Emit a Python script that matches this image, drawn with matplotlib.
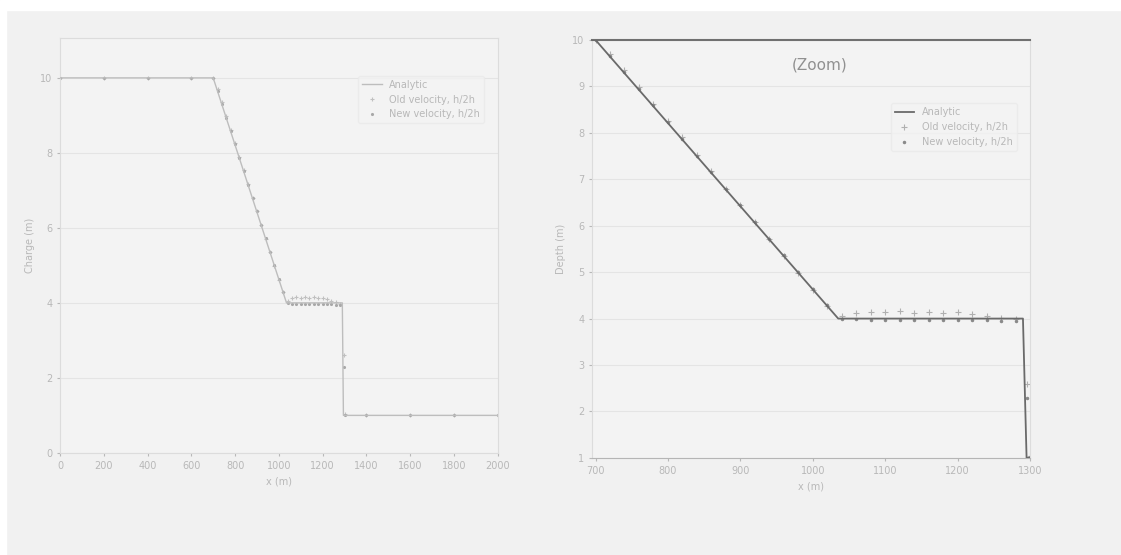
import matplotlib
matplotlib.use("Agg")
import matplotlib.pyplot as plt

# Analytic solution
ana_x = [0, 700, 1035, 1290, 1295, 2000]
ana_y = [10, 10, 4, 4, 1, 1]

# Numerical series
num_x = [0, 200, 400, 600, 700, 720, 740, 760, 780, 800, 820, 840, 860, 880, 900,
         920, 940, 960, 980, 1000, 1020, 1040, 1060, 1080, 1100, 1120, 1140, 1160,
         1180, 1200, 1220, 1240, 1260, 1280, 1296, 1300, 1400, 1600, 1800, 2000]
old_y = [10, 10, 10, 10, 10.0, 9.7, 9.35, 8.98, 8.62, 8.25, 7.9, 7.53, 7.17, 6.8, 6.44,
         6.08, 5.71, 5.35, 4.98, 4.62, 4.28, 4.05, 4.12, 4.15, 4.14, 4.16, 4.13, 4.15,
         4.12, 4.14, 4.1, 4.06, 4.02, 3.98, 2.6, 1.05, 1, 1, 1, 1]
new_y = [10, 10, 10, 10, 10.0, 9.66, 9.3, 8.94, 8.59, 8.23, 7.87, 7.51, 7.15, 6.8, 6.44,
         6.08, 5.72, 5.36, 5.0, 4.64, 4.29, 4.0, 3.98, 3.97, 3.97, 3.96, 3.97, 3.96,
         3.96, 3.97, 3.96, 3.96, 3.95, 3.94, 2.3, 1.02, 1, 1, 1, 1]

labels = ["Analytic", "Old velocity, h/2h", "New velocity, h/2h"]

left_xticks = [0, 200, 400, 600, 800, 1000, 1200, 1400, 1600, 1800, 2000]
left_yticks = [0, 2, 4, 6, 8, 10]
right_xticks = [700, 800, 900, 1000, 1100, 1200, 1300]
right_yticks = [1, 2, 3, 4, 5, 6, 7, 8, 9, 10]

bg = "#f1f1f1"
txt = "#b8b8b8"

fig = plt.figure(figsize=(11.21, 5.55), dpi=100, facecolor=bg)
fig.patches.append(plt.Rectangle((0, 0.982), 1, 0.018, transform=fig.transFigure,
                                 color="white", zorder=0))
fig.patches.append(plt.Rectangle((0, 0), 0.0055, 1, transform=fig.transFigure,
                                 color="white", zorder=0))
ax1 = fig.add_axes([0.0535, 0.184, 0.3905, 0.748])
ax2 = fig.add_axes([0.528, 0.175, 0.391, 0.753])

for ax in (ax1, ax2):
    ax.set_facecolor("#f3f3f3")
    ax.grid(axis="y", color="#e4e4e4", lw=0.8)
    ax.tick_params(colors=txt, labelsize=7, length=2)
    for s in ax.spines.values():
        s.set_color("#dcdcdc")
    ax.set_xlabel("x (m)", color=txt, fontsize=7)

ax1.plot(ana_x, ana_y, color="#bdbdbd", lw=1.0, label=labels[0], zorder=3)
ax1.plot(num_x, old_y, ls="none", marker="+", ms=3, mew=0.8, color="#c0c0c0", label=labels[1])
ax1.plot(num_x, new_y, ls="none", marker=".", ms=2.5, color="#a8a8a8", label=labels[2])
ax1.set_xlim(0, 2000)
ax1.set_ylim(0, 11.07)
ax1.set_xticks(left_xticks)
ax1.set_yticks(left_yticks)
ax1.set_ylabel("Charge (m)", color=txt, fontsize=7)
ax1.legend(loc="upper right", bbox_to_anchor=(0.98, 0.92), fontsize=7, frameon=True,
           facecolor="#f3f3f3", edgecolor="#eaeaea", labelcolor=txt)

ax2.plot(ana_x, ana_y, color="#6a6a6a", lw=1.3, label=labels[0], zorder=3)
ax2.plot(num_x, old_y, ls="none", marker="+", ms=4, mew=0.8, color="#b0b0b0", label=labels[1])
ax2.plot(num_x, new_y, ls="none", marker=".", ms=3, color="#8a8a8a", label=labels[2])
ax2.set_xlim(695, 1300)
ax2.set_ylim(1, 10)
ax2.set_xticks(right_xticks)
ax2.set_yticks(right_yticks)
ax2.spines["top"].set_color("#707070")
ax2.spines["top"].set_linewidth(1.5)
ax2.spines["bottom"].set_color("#b5b5b5")
ax2.set_ylabel("Depth (m)", color=txt, fontsize=7)
ax2.text(0.52, 0.94, "(Zoom)", transform=ax2.transAxes, ha="center", va="center",
         fontsize=11, color="#909090")
ax2.legend(loc="upper right", bbox_to_anchor=(0.98, 0.86), fontsize=7, frameon=True,
           facecolor="#f3f3f3", edgecolor="#eaeaea", labelcolor=txt)

fig.savefig("out.png", dpi=100, facecolor=bg)
